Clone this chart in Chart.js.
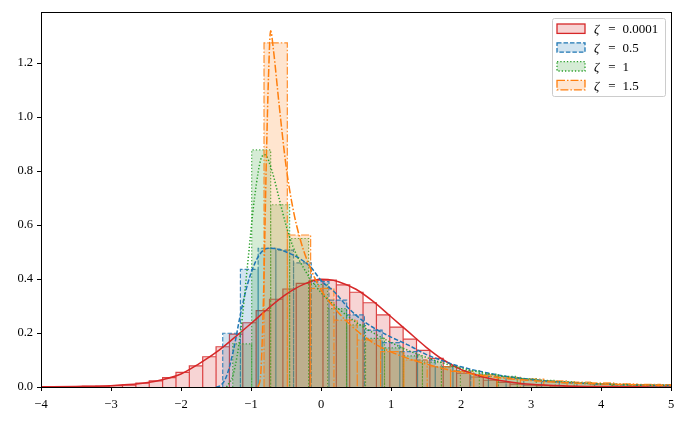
<!DOCTYPE html>
<html>
<head>
<meta charset="utf-8">
<script src="https://cdn.jsdelivr.net/npm/chart.js@4/dist/chart.umd.min.js"></script>
<style>
  html, body { margin: 0; padding: 0; background: #fff; }
</style>
</head>
<body>
<canvas id="histplot" width="688" height="423"></canvas>
<script>
// series (zeta values) and styles
const zetaLabels = ['0.0001', '0.5', '1', '1.5'];
const zetaColors = ['214,39,40', '31,119,180', '44,160,44', '255,127,14'];
const zetaDash = [[], [4.5, 2], [1.3, 2], [8, 2, 1.5, 2]];

// histogram bins: first left edge, bin width, densities
const binStart = [-3.599, -1.404, -1.261, -0.814];
const binWidth = [0.1909, 0.253, 0.271, 0.333];
const redHeights = [0.001, 0.002, 0.003, 0.005, 0.007, 0.014, 0.023, 0.035, 0.054, 0.078,
    0.112, 0.149, 0.196, 0.238, 0.283, 0.325, 0.363, 0.384, 0.396, 0.396,
    0.378, 0.351, 0.312, 0.267, 0.222, 0.177, 0.136, 0.106, 0.076, 0.051,
    0.037, 0.025, 0.017, 0.011, 0.007, 0.005, 0.003, 0.002, 0.001, 0.001];
const blueHeights = [0.199, 0.436, 0.514, 0.507, 0.46, 0.39, 0.322, 0.267, 0.211, 0.164,
    0.131, 0.10, 0.075, 0.06, 0.048, 0.039, 0.031, 0.025, 0.02, 0.016,
    0.013, 0.011, 0.009, 0.008, 0.007, 0.006, 0.005];
const greenHeights = [0.16, 0.878, 0.675, 0.55, 0.38, 0.29, 0.23, 0.18, 0.145, 0.115,
    0.092, 0.074, 0.06, 0.048, 0.039, 0.031, 0.025, 0.02, 0.016, 0.013,
    0.011, 0.009, 0.008, 0.007, 0.006];
const orangeHeights = [1.275, 0.563, 0.365, 0.248, 0.174, 0.131, 0.10, 0.075, 0.058, 0.045,
    0.036, 0.029, 0.023, 0.018, 0.015, 0.012, 0.01, 0.009, 0.008];

// kde curves
const redKdeX = [-4, -3.5, -3, -2.75, -2.5, -2.25, -2, -1.75, -1.5, -1.25, -1, -0.75, -0.5, -0.25, 0, 0.1, 0.25, 0.5, 0.75, 1, 1.25, 1.5, 1.75, 2, 2.25, 2.5, 2.75, 3, 3.5, 4, 4.5, 5];
const redKdeY = [0.0005, 0.002, 0.005, 0.009, 0.016, 0.028, 0.048, 0.085, 0.128, 0.18, 0.235, 0.292, 0.343, 0.38, 0.399, 0.398, 0.39, 0.362, 0.316, 0.26, 0.204, 0.148, 0.1, 0.065, 0.042, 0.027, 0.017, 0.01, 0.004, 0.0015, 0.0005, 0.0002];
const blueKdeX = [-1.5, -1.45, -1.35, -1.25, -1.15, -1.05, -0.95, -0.85, -0.75, -0.6, -0.45, -0.3, -0.15, 0, 0.2, 0.4, 0.6, 0.8, 1, 1.25, 1.5, 1.75, 2, 2.5, 3, 3.5, 4, 4.5, 5];
const blueKdeY = [0, 0.003, 0.04, 0.137, 0.27, 0.38, 0.455, 0.5, 0.514, 0.51, 0.495, 0.475, 0.445, 0.395, 0.35, 0.29, 0.245, 0.212, 0.185, 0.155, 0.121, 0.096, 0.075, 0.046, 0.028, 0.017, 0.011, 0.007, 0.005];
const greenKdeX = [-1.35, -1.25, -1.15, -1.05, -0.95, -0.85, -0.8, -0.7, -0.6, -0.5, -0.4, -0.2, 0, 0.25, 0.5, 0.75, 1, 1.25, 1.5, 1.75, 2, 2.5, 3, 3.5, 4, 4.5, 5];
const greenKdeY = [0, 0.05, 0.2, 0.45, 0.7, 0.85, 0.86, 0.8, 0.7, 0.6, 0.52, 0.42, 0.35, 0.29, 0.24, 0.2, 0.165, 0.135, 0.11, 0.088, 0.07, 0.044, 0.028, 0.018, 0.011, 0.007, 0.005];
const orangeKdeX = [-0.9, -0.86, -0.82, -0.78, -0.75, -0.72, -0.68, -0.6, -0.5, -0.4, -0.3, -0.2, -0.1, 0, 0.2, 0.4, 0.6, 0.8, 1, 1.25, 1.5, 1.75, 2, 2.5, 3, 3.5, 4, 4.5, 5];
const orangeKdeY = [0, 0.05, 0.35, 0.85, 1.15, 1.32, 1.25, 1.05, 0.82, 0.66, 0.55, 0.47, 0.41, 0.36, 0.29, 0.235, 0.19, 0.155, 0.13, 0.105, 0.085, 0.068, 0.055, 0.036, 0.024, 0.016, 0.011, 0.008, 0.006];

const xTicks = [-4, -3, -2, -1, 0, 1, 2, 3, 4, 5];
const yTicks = [0, 0.2, 0.4, 0.6, 0.8, 1.0, 1.2];

const allHeights = [redHeights, blueHeights, greenHeights, orangeHeights];
const allKde = [[redKdeX, redKdeY], [blueKdeX, blueKdeY], [greenKdeX, greenKdeY], [orangeKdeX, orangeKdeY]];

function barOutline(start, width, heights) {
    const pts = [];
    heights.forEach((h, i) => {
        const l = start + i * width, r = l + width;
        pts.push({x: l, y: 0}, {x: l, y: h}, {x: r, y: h}, {x: r, y: 0});
    });
    return pts;
}

const kdeSets = allKde.map(([xs, ys], i) => ({
    label: 'kde ' + zetaLabels[i],
    data: xs.map((x, j) => ({x: x, y: ys[j]})),
    borderColor: `rgb(${zetaColors[i]})`,
    borderWidth: 1.5,
    borderDash: zetaDash[i],
    cubicInterpolationMode: 'monotone',
    pointRadius: 0,
    fill: false
}));
const histSets = allHeights.map((hs, i) => ({
    label: 'ζ = ' + zetaLabels[i],
    data: barOutline(binStart[i], binWidth[i], hs),
    borderColor: `rgba(${zetaColors[i]},0.85)`,
    backgroundColor: `rgba(${zetaColors[i]},0.2)`,
    borderWidth: 1.2,
    borderDash: zetaDash[i],
    tension: 0,
    pointRadius: 0,
    fill: 'origin'
}));

const serif = "'Liberation Serif', 'DejaVu Serif', serif";

const frameBox = {
    id: 'frameBox',
    afterDatasetsDraw(chart) {
        const {ctx, chartArea: a} = chart;
        ctx.save();
        ctx.strokeStyle = '#000';
        ctx.lineWidth = 1;
        ctx.strokeRect(Math.round(a.left) + 0.5, Math.round(a.top) + 0.5, Math.round(a.right - a.left), Math.round(a.bottom - a.top));
        ctx.restore();
    }
};

const legendBox = {
    id: 'legendBox',
    afterDraw(chart) {
        const {ctx, chartArea: a} = chart;
        const w = 113, h = 78;
        const x0 = Math.round(a.right) - 119, y0 = Math.round(a.top) + 6;
        ctx.save();
        ctx.beginPath();
        ctx.roundRect(x0 + 0.5, y0 + 0.5, w, h, 2);
        ctx.fillStyle = 'rgba(255,255,255,0.8)';
        ctx.fill();
        ctx.strokeStyle = '#cccccc';
        ctx.lineWidth = 1;
        ctx.stroke();
        zetaLabels.forEach((lab, i) => {
            const cy = y0 + 10.7 + i * 18.8;
            ctx.setLineDash([]);
            ctx.fillStyle = `rgba(${zetaColors[i]},0.2)`;
            ctx.fillRect(x0 + 5, cy - 4.7, 28, 9.4);
            ctx.setLineDash(zetaDash[i]);
            ctx.strokeStyle = `rgb(${zetaColors[i]})`;
            ctx.lineWidth = 1.3;
            ctx.strokeRect(x0 + 5, cy - 4.7, 28, 9.4);
            ctx.setLineDash([]);
            ctx.fillStyle = '#000';
            ctx.textBaseline = 'middle';
            ctx.textAlign = 'left';
            ctx.font = `italic 13px ${serif}`;
            ctx.fillText('ζ', x0 + 42, cy + 1);
            ctx.font = `13px ${serif}`;
            ctx.textAlign = 'center';
            ctx.fillText('=', x0 + 60, cy + 1);
            ctx.textAlign = 'left';
            ctx.fillText(lab, x0 + 70.5, cy + 1);
        });
        ctx.restore();
    }
};

// first dataset is drawn on top: orange over green over blue over red
new Chart(document.getElementById('histplot').getContext('2d'), {
    type: 'scatter',
    data: { datasets: [...kdeSets.slice().reverse(), ...histSets.slice().reverse()] },
    options: {
        responsive: false,
        animation: false,
        devicePixelRatio: 1,
        showLine: true,
        layout: { padding: { top: 12, right: 17, left: 0, bottom: 0 } },
        plugins: { legend: { display: false }, tooltip: { enabled: false } },
        scales: {
            x: {
                type: 'linear', min: -4, max: 5,
                afterFit: s => { s.height = 36; },
                afterBuildTicks: s => { s.ticks = xTicks.map(v => ({value: v})); },
                grid: { drawOnChartArea: false, drawTicks: true, tickLength: 4, color: '#000' },
                border: { display: false },
                ticks: { color: '#000', padding: 6, maxRotation: 0, font: { family: serif, size: 12.5 },
                    callback: v => String(v).replace('-', '\u2212') }
            },
            y: {
                type: 'linear', min: 0, max: 1.389,
                afterFit: s => { s.width = 41; },
                afterBuildTicks: s => { s.ticks = yTicks.map(v => ({value: v})); },
                grid: { drawOnChartArea: false, drawTicks: true, tickLength: 4, color: '#000' },
                border: { display: false },
                ticks: { color: '#000', padding: 4, font: { family: serif, size: 12.5 },
                    callback: v => v.toFixed(1) }
            }
        }
    },
    plugins: [frameBox, legendBox]
});
</script>
</body>
</html>
